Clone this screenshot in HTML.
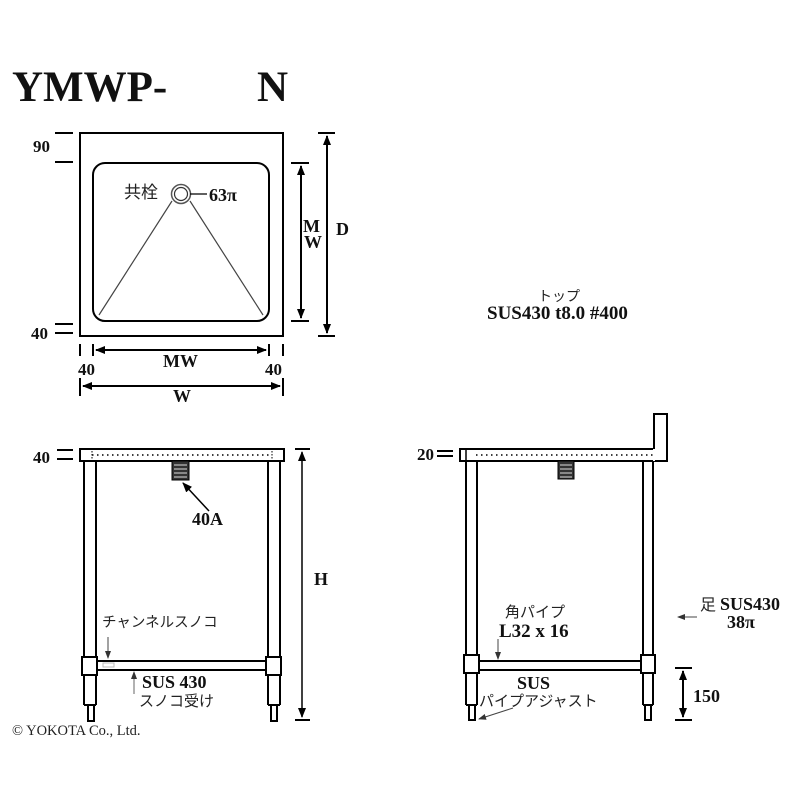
<!DOCTYPE html>
<html><head><meta charset="utf-8"><style>
html,body{margin:0;padding:0;background:#fff;}
svg{display:block;}
.s{font-family:"Liberation Serif",serif;font-weight:bold;fill:#111;}
.g{font-family:"Liberation Sans","Noto Sans CJK JP",sans-serif;fill:#222;}
</style></head><body>
<svg width="800" height="800" viewBox="0 0 800 800" xmlns="http://www.w3.org/2000/svg">
<defs>
<marker id="a" markerWidth="10" markerHeight="10" refX="9" refY="5" orient="auto-start-reverse" markerUnits="userSpaceOnUse"><path d="M0,1 L10,5 L0,9 Z" fill="#000"/></marker>
<marker id="b" markerWidth="8" markerHeight="8" refX="7" refY="4" orient="auto" markerUnits="userSpaceOnUse"><path d="M0,1 L8,4 L0,7 Z" fill="#333"/></marker>
</defs>
<text x="12" y="101" class="s" font-size="43">YMWP-</text>
<text x="257" y="101" class="s" font-size="43">N</text>

<!-- TOP VIEW -->
<g stroke="#000" fill="none" stroke-width="2">
<rect x="80" y="133" width="203" height="203"/>
<rect x="93" y="163" width="176" height="158" rx="12"/>
</g>
<g stroke="#444" fill="none" stroke-width="1.2">
<line x1="172" y1="201" x2="99" y2="315"/>
<line x1="190" y1="201" x2="263" y2="315"/>
</g>
<circle cx="181" cy="194" r="9.5" fill="#fff" stroke="#555" stroke-width="1.5"/>
<circle cx="181" cy="194" r="6.5" fill="#fff" stroke="#333" stroke-width="1.2"/>
<line x1="190" y1="194" x2="207" y2="194" stroke="#000" stroke-width="1.2"/>
<text x="124" y="198" class="g" font-size="17">共栓</text>
<text x="209" y="201" class="s" font-size="18">63π</text>
<g stroke="#000" stroke-width="2">
<line x1="55" y1="133" x2="73" y2="133"/><line x1="55" y1="162" x2="73" y2="162"/>
<line x1="55" y1="324" x2="73" y2="324"/><line x1="55" y1="333" x2="73" y2="333"/>
<line x1="291" y1="163" x2="309" y2="163"/><line x1="291" y1="321" x2="309" y2="321"/>
<line x1="318" y1="133" x2="335" y2="133"/><line x1="318" y1="336" x2="335" y2="336"/>
<line x1="80" y1="344" x2="80" y2="356"/><line x1="93" y1="344" x2="93" y2="356"/>
<line x1="269" y1="344" x2="269" y2="356"/><line x1="283" y1="344" x2="283" y2="356"/>
<line x1="80" y1="378" x2="80" y2="396"/><line x1="283" y1="378" x2="283" y2="396"/>
<line x1="301" y1="166" x2="301" y2="318" marker-end="url(#a)" marker-start="url(#a)"/>
<line x1="327" y1="136" x2="327" y2="333" marker-end="url(#a)" marker-start="url(#a)"/>
<line x1="96" y1="350" x2="266" y2="350" marker-end="url(#a)" marker-start="url(#a)"/>
<line x1="83" y1="386" x2="280" y2="386" marker-end="url(#a)" marker-start="url(#a)"/>
</g>
<text x="33" y="152" class="s" font-size="17">90</text>
<text x="31" y="339" class="s" font-size="17">40</text>
<text x="303" y="232" class="s" font-size="18">M</text>
<text x="304" y="248" class="s" font-size="18">W</text>
<text x="336" y="235" class="s" font-size="18">D</text>
<text x="163" y="367" class="s" font-size="18">MW</text>
<text x="78" y="375" class="s" font-size="17">40</text>
<text x="265" y="375" class="s" font-size="17">40</text>
<text x="173" y="402" class="s" font-size="18">W</text>

<!-- FRONT VIEW -->
<g stroke="#000" fill="none" stroke-width="2">
<rect x="80" y="449" width="204" height="12"/>
<line x1="84" y1="461" x2="84" y2="657"/><line x1="96" y1="461" x2="96" y2="657"/>
<line x1="268" y1="461" x2="268" y2="657"/><line x1="280" y1="461" x2="280" y2="657"/>
<rect x="82" y="657" width="15" height="18"/><rect x="266" y="657" width="15" height="18"/>
<line x1="97" y1="661" x2="266" y2="661"/><line x1="97" y1="670" x2="266" y2="670"/>
<line x1="84" y1="675" x2="84" y2="705"/><line x1="96" y1="675" x2="96" y2="705"/>
<line x1="268" y1="675" x2="268" y2="705"/><line x1="280" y1="675" x2="280" y2="705"/>
<rect x="88" y="705" width="6" height="16"/><rect x="271" y="705" width="6" height="16"/>
<line x1="84" y1="705" x2="96" y2="705"/><line x1="268" y1="705" x2="280" y2="705"/>
</g>
<line x1="92" y1="455" x2="272" y2="455" stroke="#000" stroke-width="1.5" stroke-dasharray="1.5,3.5"/>
<line x1="92" y1="451" x2="92" y2="459" stroke="#000" stroke-width="1" stroke-dasharray="1.5,1.5"/>
<line x1="272" y1="451" x2="272" y2="459" stroke="#000" stroke-width="1" stroke-dasharray="1.5,1.5"/>
<rect x="172" y="461" width="17" height="19" fill="#333" stroke="#000"/>
<g stroke="#ddd" stroke-width="1"><line x1="174" y1="465" x2="187" y2="465"/><line x1="174" y1="469" x2="187" y2="469"/><line x1="174" y1="473" x2="187" y2="473"/><line x1="174" y1="477" x2="187" y2="477"/></g>
<line x1="209" y1="511" x2="183" y2="483" stroke="#000" stroke-width="1.5" marker-end="url(#a)"/>
<text x="192" y="525" class="s" font-size="18">40A</text>
<g stroke="#000" stroke-width="2">
<line x1="57" y1="450" x2="73" y2="450"/><line x1="57" y1="459" x2="73" y2="459"/>
<line x1="295" y1="449" x2="310" y2="449"/><line x1="295" y1="720" x2="310" y2="720"/>
<line x1="302" y1="452" x2="302" y2="717" stroke-width="1.5" marker-end="url(#a)" marker-start="url(#a)"/>
</g>
<text x="33" y="463" class="s" font-size="17">40</text>
<text x="314" y="585" class="s" font-size="18">H</text>
<text x="102" y="627" class="g" font-size="14.5">チャンネルスノコ</text>
<line x1="108" y1="637" x2="108" y2="658" stroke="#444" stroke-width="1" marker-end="url(#b)"/>
<rect x="103" y="663" width="11" height="4" fill="none" stroke="#bbb"/>
<line x1="134" y1="694" x2="134" y2="672" stroke="#666" stroke-width="1" marker-end="url(#b)"/>
<text x="142" y="688" class="s" font-size="18">SUS 430</text>
<text x="139" y="706" class="g" font-size="15">スノコ受け</text>
<text x="12" y="735" font-family="Liberation Serif,serif" font-size="14.5" fill="#222">© YOKOTA Co., Ltd.</text>

<!-- SIDE VIEW -->
<g stroke="#000" fill="none" stroke-width="2">
<rect x="460" y="449" width="206" height="12"/>
<rect x="654" y="414" width="13" height="47" fill="#fff"/>
<line x1="654" y1="449" x2="654" y2="461" stroke="#fff" stroke-width="2"/>
<line x1="466" y1="449" x2="466" y2="461" stroke-width="1.5"/>
<line x1="466" y1="461" x2="466" y2="655"/><line x1="477" y1="461" x2="477" y2="655"/>
<line x1="643" y1="461" x2="643" y2="655"/><line x1="653" y1="461" x2="653" y2="655"/>
<rect x="464" y="655" width="15" height="18"/><rect x="641" y="655" width="14" height="18"/>
<line x1="479" y1="661" x2="641" y2="661"/><line x1="479" y1="670" x2="641" y2="670"/>
<line x1="466" y1="673" x2="466" y2="705"/><line x1="477" y1="673" x2="477" y2="705"/>
<line x1="643" y1="673" x2="643" y2="705"/><line x1="653" y1="673" x2="653" y2="705"/>
<line x1="466" y1="705" x2="477" y2="705"/><line x1="643" y1="705" x2="653" y2="705"/>
<rect x="469" y="705" width="6" height="15"/><rect x="645" y="705" width="6" height="15"/>
</g>
<line x1="476" y1="455" x2="655" y2="455" stroke="#000" stroke-width="1.5" stroke-dasharray="1.5,3.5"/>
<rect x="558" y="461" width="16" height="18" fill="#333" stroke="#000"/>
<g stroke="#ddd" stroke-width="1"><line x1="560" y1="465" x2="572" y2="465"/><line x1="560" y1="469" x2="572" y2="469"/><line x1="560" y1="473" x2="572" y2="473"/><line x1="560" y1="477" x2="572" y2="477"/></g>
<g stroke="#000" stroke-width="2">
<line x1="437" y1="451" x2="453" y2="451"/><line x1="437" y1="456" x2="453" y2="456"/>
<line x1="675" y1="668" x2="692" y2="668"/><line x1="675" y1="720" x2="692" y2="720"/>
<line x1="683" y1="671" x2="683" y2="717" marker-end="url(#a)" marker-start="url(#a)"/>
</g>
<text x="417" y="460" class="s" font-size="17">20</text>
<text x="693" y="702" class="s" font-size="18">150</text>
<text x="505" y="617" class="g" font-size="15">角パイプ</text>
<text x="499" y="637" class="s" font-size="19">L32 x 16</text>
<line x1="498" y1="639" x2="498" y2="659" stroke="#444" stroke-width="1" marker-end="url(#b)"/>
<text x="517" y="689" class="s" font-size="18">SUS</text>
<text x="479" y="706" class="g" font-size="15">パイプアジャスト</text>
<line x1="513" y1="708" x2="479" y2="719" stroke="#444" stroke-width="1" marker-end="url(#b)"/>
<text x="700" y="610" class="g" font-size="16">足</text>
<text x="720" y="610" class="s" font-size="18">SUS430</text>
<text x="727" y="628" class="s" font-size="18">38π</text>
<line x1="697" y1="617" x2="678" y2="617" stroke="#444" stroke-width="1" marker-end="url(#b)"/>
<text x="538" y="301" class="g" font-size="14">トップ</text>
<text x="487" y="319" class="s" font-size="19">SUS430 t8.0 #400</text>
</svg>
</body></html>
